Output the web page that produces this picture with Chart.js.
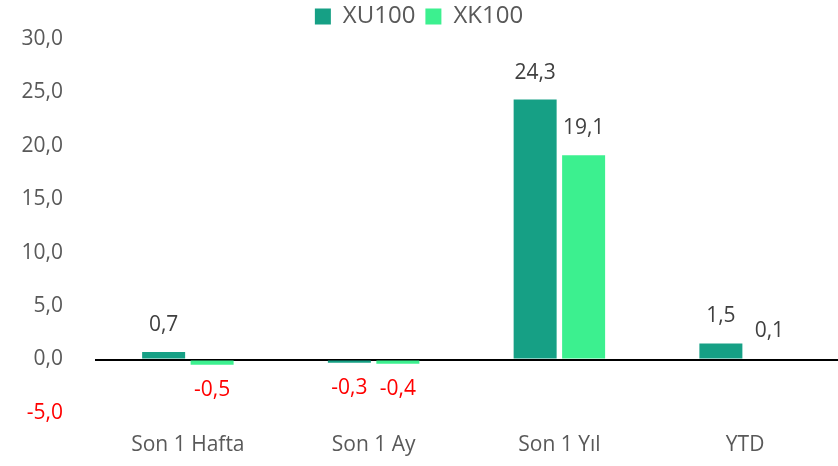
<!DOCTYPE html>
<html>
<head>
<meta charset="utf-8">
<script src="https://cdn.jsdelivr.net/npm/chart.js@4"></script>
<style>
    html, body { margin: 0; padding: 0; background: #fff; overflow: hidden; }
    #wrap { width: 838px; height: 472px; margin-top: -6px; }
</style>
</head>
<body>
<div id="wrap"><canvas id="chart"></canvas></div>
<script>
const categories = ['Son 1 Hafta', 'Son 1 Ay', 'Son 1 Yıl', 'YTD'];
const xu100 = [0.7, -0.3, 24.3, 1.5];
const xk100 = [-0.5, -0.4, 19.1, 0.1];
const yTicks = [-5, 0, 5, 10, 15, 20, 25, 30];

const fmt = v => v.toFixed(1).replace('.', ',');
const FONT = '"Open Sans", Lato, sans-serif';

// value labels above / below each bar
const barLabels = {
    id: 'barLabels',
    afterDatasetsDraw(chart) {
        const ctx = chart.ctx;
        ctx.save();
        ctx.font = '21px ' + FONT;
        ctx.textAlign = 'center';
        ctx.textBaseline = 'middle';
        chart.data.datasets.forEach((ds, i) => {
            chart.getDatasetMeta(i).data.forEach((bar, j) => {
                const v = ds.data[j];
                if (v >= 0) {
                    ctx.fillStyle = '#404040';
                    ctx.fillText(fmt(v), bar.x, bar.y - 27);
                } else {
                    ctx.fillStyle = '#ff0000';
                    ctx.fillText(fmt(v), bar.x, bar.y + 25);
                }
            });
        });
        ctx.restore();
    }
};

new Chart(document.getElementById('chart').getContext('2d'), {
    type: 'bar',
    data: {
        labels: categories,
        datasets: [{
            label: 'XU100',
            data: xu100,
            backgroundColor: '#16a085',
            barPercentage: 0.887,
            categoryPercentage: 0.522
        }, {
            label: 'XK100',
            data: xk100,
            backgroundColor: '#3cf08f',
            barPercentage: 0.887,
            categoryPercentage: 0.522
        }]
    },
    options: {
        responsive: true,
        maintainAspectRatio: false,
        animation: false,
        layout: { padding: 0 },
        plugins: {
            legend: {
                position: 'top',
                labels: {
                    boxWidth: 16,
                    boxHeight: 16,
                    padding: 10,
                    color: '#595959',
                    font: { family: FONT, size: 24 }
                }
            },
            tooltip: { enabled: false }
        },
        scales: {
            x: {
                grid: { display: false },
                border: { display: false },
                afterFit: axis => { axis.height = 53; },
                ticks: {
                    color: '#595959',
                    padding: 11,
                    font: { family: FONT, size: 21 }
                }
            },
            y: {
                min: -5,
                max: 30,
                afterBuildTicks: axis => {
                    axis.ticks = yTicks.map(v => ({ value: v }));
                },
                afterFit: axis => { axis.width = 95; },
                grid: {
                    color: c => c.tick && c.tick.value === 0 ? '#000000' : 'rgba(0,0,0,0)',
                    lineWidth: 2,
                    drawTicks: false
                },
                border: { display: false },
                ticks: {
                    padding: 32,
                    color: c => c.tick.value < 0 ? '#ff0000' : '#595959',
                    font: { family: FONT, size: 21 },
                    callback: v => fmt(v)
                }
            }
        }
    },
    plugins: [barLabels]
});
</script>
</body>
</html>
